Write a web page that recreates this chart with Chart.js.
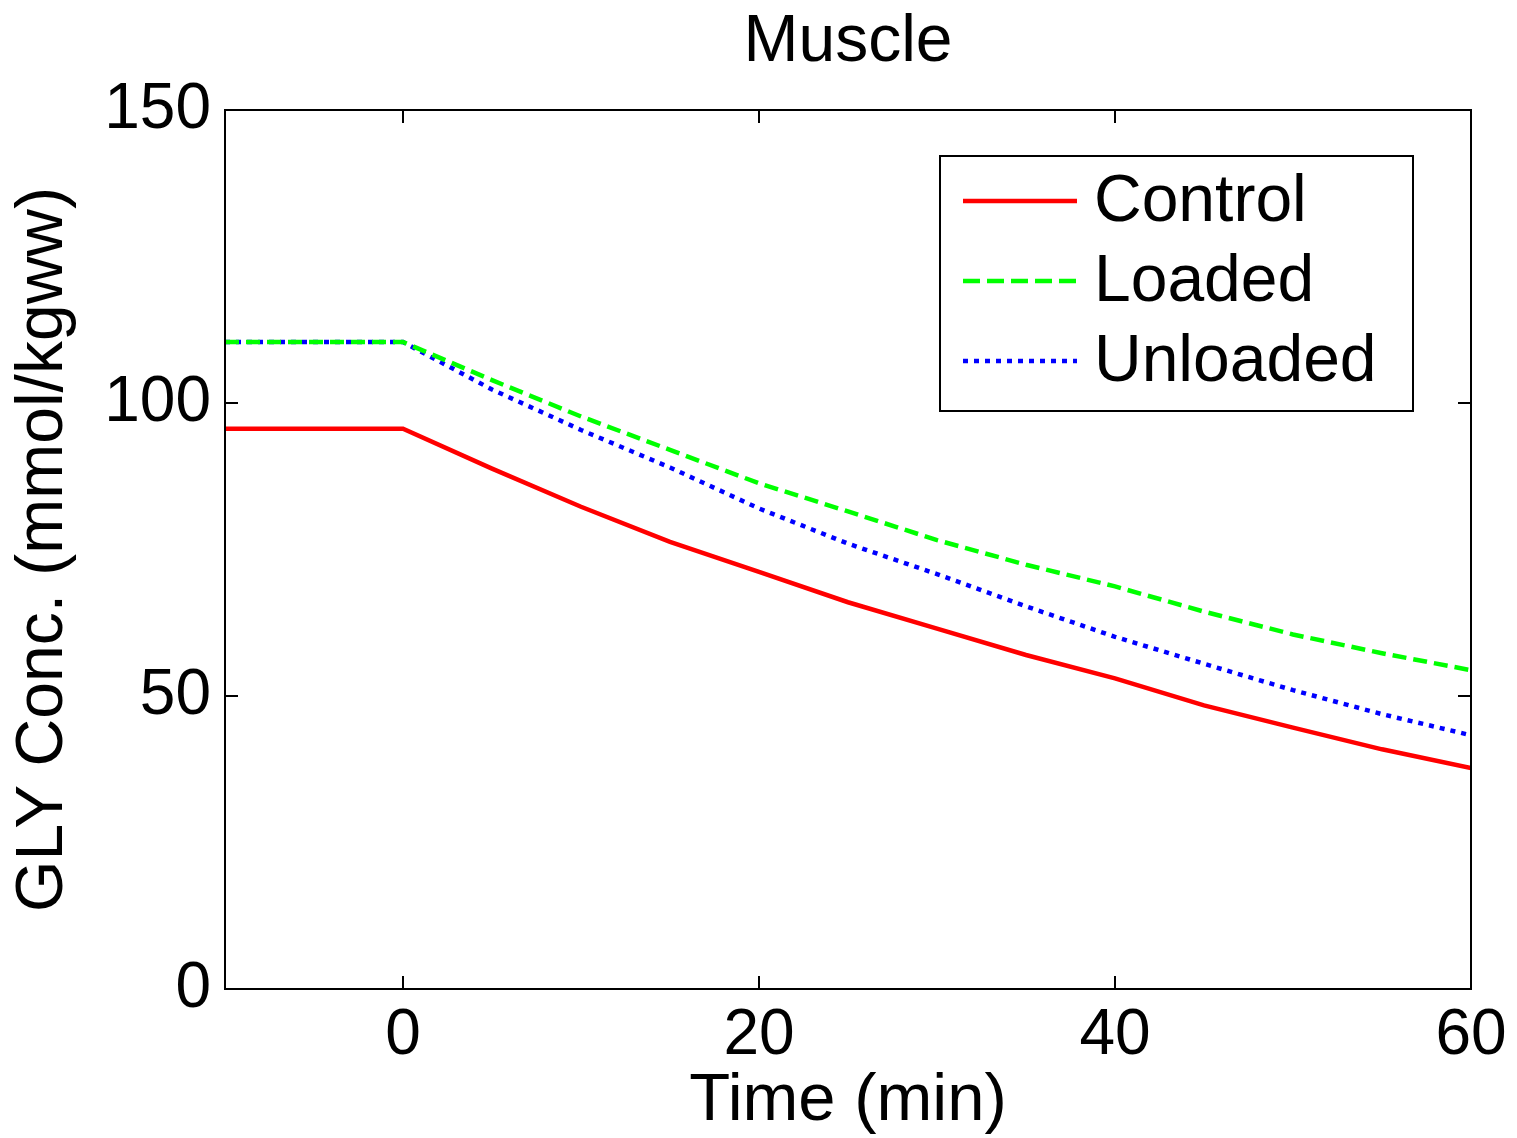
<!DOCTYPE html>
<html>
<head>
<meta charset="utf-8">
<script src="https://cdn.jsdelivr.net/npm/chart.js@4.4.1/dist/chart.umd.min.js"></script>
<style>
  html, body { margin: 0; padding: 0; background: #fff; }
</style>
</head>
<body>
<canvas id="myChart" width="1517" height="1138"></canvas>
<script>
// values (time in min, GLY in mmol/kgww)
var time = [-10, 0, 5, 10, 15, 20, 25, 30, 35, 40, 45, 50, 55, 60];
var control = [95.6, 95.6, 88.8, 82.3, 76.3, 71.2, 66.0, 61.5, 57.0, 53.0, 48.4, 44.6, 40.9, 37.7];
var loaded = [110.4, 110.4, 103.9, 97.7, 92.0, 86.3, 81.5, 76.6, 72.4, 68.7, 64.4, 60.5, 57.3, 54.4];
var unloaded = [110.4, 110.4, 102.3, 95.4, 89.0, 82.0, 76.0, 70.8, 65.3, 60.1, 55.5, 51.0, 46.9, 43.3];

var xTicks = [0, 20, 40, 60];
var yTicks = [0, 50, 100, 150];
var seriesNames = ['Control', 'Loaded', 'Unloaded'];

Chart.defaults.font.family = '"Liberation Sans", Arial, sans-serif';
Chart.defaults.color = '#000';

function pts(ys) {
    return time.map(function (t, i) { return { x: t, y: ys[i] }; });
}

// matlab style box, inward ticks on all sides and legend box
var matlabBox = {
    id: 'matlabBox',
    afterDatasetsDraw: function (chart) {
        var ctx = chart.ctx;
        var a = chart.chartArea;
        var sx = chart.scales.x, sy = chart.scales.y;
        var len = 13;
        ctx.save();
        ctx.strokeStyle = '#000';
        ctx.lineWidth = 2;
        ctx.setLineDash([]);
        ctx.strokeRect(a.left, a.top, a.right - a.left, a.bottom - a.top);
        ctx.beginPath();
        xTicks.forEach(function (v) {
            var px = sx.getPixelForValue(v);
            ctx.moveTo(px, a.bottom); ctx.lineTo(px, a.bottom - len);
            ctx.moveTo(px, a.top); ctx.lineTo(px, a.top + len);
        });
        yTicks.forEach(function (v) {
            var py = sy.getPixelForValue(v);
            ctx.moveTo(a.left, py); ctx.lineTo(a.left + len, py);
            ctx.moveTo(a.right, py); ctx.lineTo(a.right - len, py);
        });
        ctx.stroke();

        // legend
        var bx = a.right - 58 - 473, by = a.top + 46, bw = 473, bh = 255;
        ctx.fillStyle = '#fff';
        ctx.fillRect(bx, by, bw, bh);
        ctx.strokeRect(bx, by, bw, bh);
        ctx.font = '66px "Liberation Sans", Arial, sans-serif';
        ctx.textBaseline = 'middle';
        ctx.fillStyle = '#000';
        chart.data.datasets.forEach(function (ds, i) {
            var ly = by + 45 + i * 80;
            ctx.save();
            ctx.strokeStyle = ds.borderColor;
            ctx.lineWidth = ds.borderWidth;
            ctx.setLineDash(ds.legendDash || []);
            ctx.beginPath();
            ctx.moveTo(bx + 23, ly);
            ctx.lineTo(bx + 137, ly);
            ctx.stroke();
            ctx.restore();
            ctx.fillText(ds.label, bx + 154, ly + 2);
        });
        ctx.restore();
    }
};

new Chart(document.getElementById('myChart'), {
    type: 'line',
    data: {
        datasets: [{
            label: seriesNames[0],
            data: pts(control),
            borderColor: '#ff0000',
            borderWidth: 4.5,
            legendDash: []
        }, {
            label: seriesNames[1],
            data: pts(loaded),
            borderColor: '#00ff00',
            borderWidth: 4.5,
            borderDash: [14, 7],
            legendDash: [17, 7]
        }, {
            label: seriesNames[2],
            data: pts(unloaded),
            borderColor: '#0000ff',
            borderWidth: 4.5,
            borderDash: [5, 6],
            legendDash: [5, 6]
        }]
    },
    options: {
        responsive: false,
        animation: false,
        layout: { padding: { left: 0, right: 46, top: 0, bottom: 0 } },
        elements: {
            point: { radius: 0 },
            line: { tension: 0, borderCapStyle: 'butt' }
        },
        plugins: {
            legend: { display: false },
            tooltip: { enabled: false }
        },
        scales: {
            x: {
                type: 'linear',
                position: 'bottom',
                min: -10,
                max: 60,
                afterBuildTicks: function (s) { s.ticks = xTicks.map(function (v) { return { value: v }; }); },
                afterFit: function (s) { s.height = 149; },
                grid: { display: false, drawTicks: false },
                border: { display: false },
                ticks: { padding: 9, maxRotation: 0, autoSkip: false, font: { size: 64 }, color: '#000' },
                title: { display: true, text: 'Time (min)', font: { size: 67, lineHeight: 1.1 }, padding: 0, color: '#000' }
            },
            x2: {
                type: 'linear',
                axis: 'x',
                position: 'top',
                min: -10,
                max: 60,
                afterFit: function (s) { s.height = 110; },
                grid: { display: false, drawTicks: false },
                border: { display: false },
                ticks: { display: false },
                title: { display: true, text: 'Muscle', font: { size: 66, lineHeight: 1.1 }, padding: { top: 6, bottom: 0 }, color: '#000' }
            },
            y: {
                min: 0,
                max: 150,
                afterBuildTicks: function (s) { s.ticks = yTicks.map(function (v) { return { value: v }; }); },
                afterFit: function (s) { s.width = 225; },
                grid: { display: false, drawTicks: false },
                border: { display: false },
                ticks: { padding: 14, font: { size: 64 }, color: '#000' },
                title: { display: true, text: 'GLY Conc. (mmol/kgww)', font: { size: 66, lineHeight: 1.2 }, padding: { top: 4, bottom: 0 }, color: '#000' }
            }
        }
    },
    plugins: [matlabBox]
});
</script>
</body>
</html>
